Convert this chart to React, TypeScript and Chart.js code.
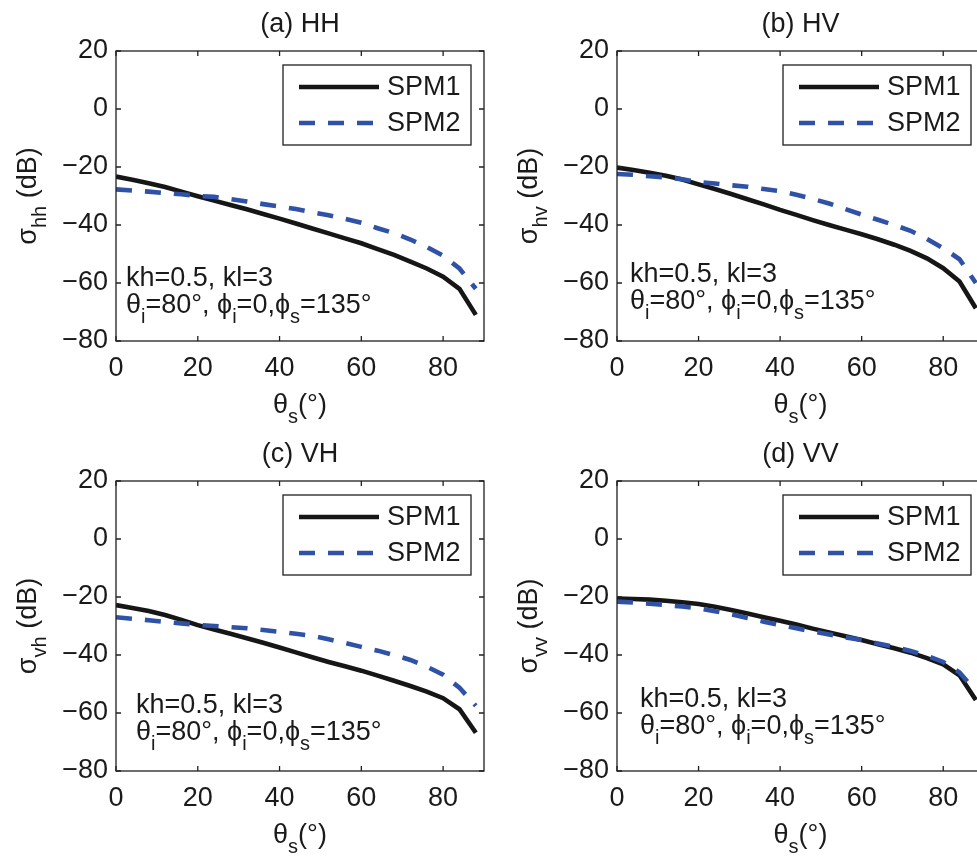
import React, { useEffect, useRef } from 'react';
import { Chart, registerables } from 'chart.js';

Chart.register(...registerables);

// ---------- data ----------
const THETA_S = [0, 4, 8, 12, 16, 20, 24, 28, 32, 36, 40, 44, 48, 52, 56, 60, 64, 68, 72, 76, 80, 84, 88];

const HH_SPM1 = [-23.3, -24.4, -25.6, -26.9, -28.5, -30.1, -31.6, -33.1, -34.6, -36.2, -37.8, -39.5, -41.2, -42.9, -44.6, -46.3, -48.3, -50.3, -52.6, -55.0, -57.8, -62.0, -71.0];
const HH_SPM2 = [-27.7, -28.1, -28.5, -29.0, -29.4, -30.0, -30.3, -31.1, -31.9, -32.8, -33.6, -34.5, -35.6, -36.6, -37.9, -39.2, -41.1, -42.8, -45.0, -47.6, -50.6, -55.0, -62.0];

const HV_SPM1 = [-20.2, -21.0, -22.0, -23.0, -24.3, -26.0, -27.6, -29.3, -31.1, -32.9, -34.8, -36.5, -38.3, -40.0, -41.6, -43.2, -44.9, -46.8, -48.9, -51.5, -54.9, -59.5, -68.7];
const HV_SPM2 = [-22.4, -22.7, -23.2, -23.6, -24.2, -25.2, -25.7, -26.3, -26.8, -27.6, -28.3, -29.6, -31.0, -32.6, -34.5, -36.4, -38.2, -40.0, -42.0, -44.8, -48.0, -51.8, -60.0];

const VH_SPM1 = [-22.8, -23.8, -24.8, -26.2, -27.9, -29.7, -31.2, -32.7, -34.2, -35.8, -37.4, -39.1, -40.8, -42.4, -43.9, -45.4, -47.1, -48.9, -50.7, -52.6, -54.9, -58.7, -66.8];
const VH_SPM2 = [-27.0, -27.5, -28.0, -28.6, -29.1, -29.6, -30.0, -30.4, -30.8, -31.4, -32.0, -32.7, -33.4, -34.6, -35.8, -37.2, -38.5, -40.0, -41.7, -44.0, -46.8, -51.3, -57.5];

const VV_SPM1 = [-20.5, -20.7, -20.9, -21.3, -21.8, -22.4, -23.4, -24.5, -25.7, -27.0, -28.2, -29.5, -30.9, -32.2, -33.5, -34.8, -36.3, -37.7, -39.2, -41.1, -43.2, -47.0, -55.5];
const VV_SPM2 = [-21.6, -21.9, -22.3, -22.8, -23.3, -23.9, -24.9, -26.0, -27.2, -28.5, -29.7, -30.8, -31.9, -32.9, -33.9, -34.8, -36.0, -37.2, -38.6, -40.3, -42.4, -46.0, -52.5];

const X_TICKS = [0, 20, 40, 60, 80];
const Y_TICKS = [20, 0, -20, -40, -60, -80];
const SERIES_LABELS = ['SPM1', 'SPM2'];
const PANEL_TITLES = ['(a) HH', '(b) HV', '(c) VH', '(d) VV'];
const Y_SUBSCRIPTS = ['hh', 'hv', 'vh', 'vv'];
const ANNOT_LINE1 = 'kh=0.5, kl=3';

// ---------- style ----------
const FONT_FAMILY = '"Liberation Sans", Arial, Helvetica, sans-serif';
const MAIN_SIZE = 27;
const SUB_SIZE = 20;
const SUB_DY = 10;
const TEXT_COLOR = '#1a1a1a';
const AXIS_COLOR = '#202020';
const BLACK = '#161616';
const BLUE = '#2f52a6';
const LINE_W = 4.6;

type Seg = { t: string; sub?: boolean };

function segWidth(ctx: CanvasRenderingContext2D, segs: Seg[]) {
  let w = 0;
  for (const s of segs) {
    ctx.font = `${s.sub ? SUB_SIZE : MAIN_SIZE}px ${FONT_FAMILY}`;
    w += ctx.measureText(s.t).width;
  }
  return w;
}

function drawRich(ctx: CanvasRenderingContext2D, segs: Seg[], x: number, y: number, align: 'left' | 'center') {
  let cx = align === 'center' ? x - segWidth(ctx, segs) / 2 : x;
  ctx.textAlign = 'left';
  ctx.textBaseline = 'alphabetic';
  for (const s of segs) {
    ctx.font = `${s.sub ? SUB_SIZE : MAIN_SIZE}px ${FONT_FAMILY}`;
    ctx.fillText(s.t, cx, s.sub ? y + SUB_DY : y);
    cx += ctx.measureText(s.t).width;
  }
}

const decorPlugin = {
  id: 'panelDecor',
  afterDraw(chart: any, _args: any, opts: any) {
    const { ctx, chartArea: ca, scales } = chart;
    const xs = scales.x;
    const ys = scales.y;
    ctx.save();

    // axes box
    ctx.strokeStyle = AXIS_COLOR;
    ctx.lineWidth = 1.3;
    ctx.setLineDash([]);
    ctx.strokeRect(ca.left, ca.top, ca.right - ca.left, ca.bottom - ca.top);

    // inward ticks
    const tl = 5;
    ctx.beginPath();
    for (const v of X_TICKS) {
      const px = xs.getPixelForValue(v);
      ctx.moveTo(px, ca.bottom);
      ctx.lineTo(px, ca.bottom - tl);
      ctx.moveTo(px, ca.top);
      ctx.lineTo(px, ca.top + tl);
    }
    for (const v of Y_TICKS) {
      const py = ys.getPixelForValue(v);
      ctx.moveTo(ca.left, py);
      ctx.lineTo(ca.left + tl, py);
      ctx.moveTo(ca.right, py);
      ctx.lineTo(ca.right - tl, py);
    }
    ctx.stroke();

    ctx.fillStyle = TEXT_COLOR;

    // title
    ctx.font = `${MAIN_SIZE}px ${FONT_FAMILY}`;
    ctx.textAlign = 'center';
    ctx.textBaseline = 'alphabetic';
    ctx.fillText(opts.title, (ca.left + ca.right) / 2, ca.top - 19);

    // legend
    const lx = ca.left + opts.legendDx;
    const ly = ca.top + 14;
    const lw = 188;
    const lh = 80;
    ctx.fillStyle = '#ffffff';
    ctx.fillRect(lx, ly, lw, lh);
    ctx.strokeStyle = AXIS_COLOR;
    ctx.lineWidth = 1.3;
    ctx.strokeRect(lx, ly, lw, lh);
    const rows = [ly + 22, ly + 58];
    chart.data.datasets.forEach((ds: any, i: number) => {
      ctx.beginPath();
      ctx.strokeStyle = ds.borderColor;
      ctx.lineWidth = ds.borderWidth;
      ctx.setLineDash(ds.borderDash || []);
      ctx.moveTo(lx + 16, rows[i]);
      ctx.lineTo(lx + 96, rows[i]);
      ctx.stroke();
      ctx.setLineDash([]);
      ctx.fillStyle = TEXT_COLOR;
      ctx.font = `${MAIN_SIZE}px ${FONT_FAMILY}`;
      ctx.textAlign = 'left';
      ctx.textBaseline = 'middle';
      ctx.fillText(ds.label, lx + 104, rows[i] + 1);
    });

    // annotation
    ctx.fillStyle = TEXT_COLOR;
    const ax = ca.left + opts.annotDx;
    const ay = ca.top + opts.annotDy;
    drawRich(ctx, [{ t: ANNOT_LINE1 }], ax, ay, 'left');
    drawRich(
      ctx,
      [
        { t: 'θ' }, { t: 'i', sub: true }, { t: '=80°, ϕ' }, { t: 'i', sub: true },
        { t: '=0,ϕ' }, { t: 's', sub: true }, { t: '=135°' },
      ],
      ax,
      ay + 27,
      'left'
    );

    // x axis label
    drawRich(ctx, [{ t: 'θ' }, { t: 's', sub: true }, { t: '(°)' }], (ca.left + ca.right) / 2, ca.bottom + 72, 'center');

    // y axis label
    ctx.translate(ca.left - 80, (ca.top + ca.bottom) / 2);
    ctx.rotate(-Math.PI / 2);
    drawRich(ctx, [{ t: 'σ' }, { t: opts.ySub, sub: true }, { t: ' (dB)' }], 0, 0, 'center');

    ctx.restore();
  },
};

const fmt = (v: number) => (v < 0 ? '\u2212' + Math.abs(v) : String(v));

type PanelProps = {
  left: number; top: number; w: number; h: number; L: number; R: number;
  title: string; ySub: string; s1: number[]; s2: number[];
  annotDx: number; annotDy: number; legendDx: number;
};

function Panel(p: PanelProps) {
  const ref = useRef<HTMLCanvasElement>(null);
  useEffect(() => {
    if (!ref.current) return;
    const T = 51;
    const B = 341;
    const tickFont = { size: MAIN_SIZE, family: FONT_FAMILY };
    const chart = new Chart(ref.current, {
      type: 'line',
      data: {
        datasets: [
          {
            label: SERIES_LABELS[0],
            data: THETA_S.map((x, i) => ({ x, y: p.s1[i] })),
            borderColor: BLACK,
            borderWidth: LINE_W,
            pointRadius: 0,
            tension: 0,
            fill: false,
            order: 2,
          },
          {
            label: SERIES_LABELS[1],
            data: THETA_S.map((x, i) => ({ x, y: p.s2[i] })),
            borderColor: BLUE,
            borderWidth: LINE_W,
            borderDash: [16, 13],
            pointRadius: 0,
            tension: 0,
            fill: false,
            order: 1,
          },
        ],
      },
      options: {
        responsive: false,
        animation: false,
        devicePixelRatio: 1,
        layout: { padding: { top: T, left: 0, right: p.w - p.R, bottom: 0 } },
        plugins: {
          legend: { display: false },
          tooltip: { enabled: false },
          title: { display: false },
          // @ts-ignore
          panelDecor: { title: p.title, ySub: p.ySub, annotDx: p.annotDx, annotDy: p.annotDy, legendDx: p.legendDx },
        },
        scales: {
          x: {
            type: 'linear',
            min: 0,
            max: 90,
            afterBuildTicks: (s: any) => { s.ticks = X_TICKS.map((v) => ({ value: v })); },
            afterFit: (s: any) => { s.height = p.h - B; },
            grid: { display: false, drawTicks: false },
            border: { display: false },
            ticks: { font: tickFont, color: TEXT_COLOR, padding: 11, maxRotation: 0, autoSkip: false, callback: (v: any) => fmt(Number(v)) },
          },
          y: {
            type: 'linear',
            min: -80,
            max: 20,
            afterBuildTicks: (s: any) => { s.ticks = Y_TICKS.map((v) => ({ value: v })); },
            afterFit: (s: any) => { s.width = p.L; },
            grid: { display: false, drawTicks: false },
            border: { display: false },
            ticks: { font: tickFont, color: TEXT_COLOR, padding: 8, autoSkip: false, callback: (v: any) => fmt(Number(v)) },
          },
        },
      },
      plugins: [decorPlugin as any],
    } as any);
    return () => chart.destroy();
  }, []);
  return (
    <canvas
      ref={ref}
      width={p.w}
      height={p.h}
      style={{ position: 'absolute', left: p.left, top: p.top, width: p.w, height: p.h }}
    />
  );
}

export default function App() {
  return (
    <div style={{ position: 'absolute', left: 0, top: 0, width: 977, height: 856, overflow: 'hidden', background: '#fff' }}>
      <Panel left={0} top={0} w={488} h={430} L={116} R={484} title={PANEL_TITLES[0]} ySub={Y_SUBSCRIPTS[0]} s1={HH_SPM1} s2={HH_SPM2} annotDx={10} annotDy={235} legendDx={167} />
      <Panel left={488} top={0} w={500} h={430} L={129} R={496} title={PANEL_TITLES[1]} ySub={Y_SUBSCRIPTS[1]} s1={HV_SPM1} s2={HV_SPM2} annotDx={13} annotDy={231} legendDx={166} />
      <Panel left={0} top={430} w={488} h={426} L={116} R={484} title={PANEL_TITLES[2]} ySub={Y_SUBSCRIPTS[2]} s1={VH_SPM1} s2={VH_SPM2} annotDx={20} annotDy={232} legendDx={167} />
      <Panel left={488} top={430} w={500} h={426} L={129} R={496} title={PANEL_TITLES[3]} ySub={Y_SUBSCRIPTS[3]} s1={VV_SPM1} s2={VV_SPM2} annotDx={23} annotDy={226} legendDx={166} />
    </div>
  );
}
